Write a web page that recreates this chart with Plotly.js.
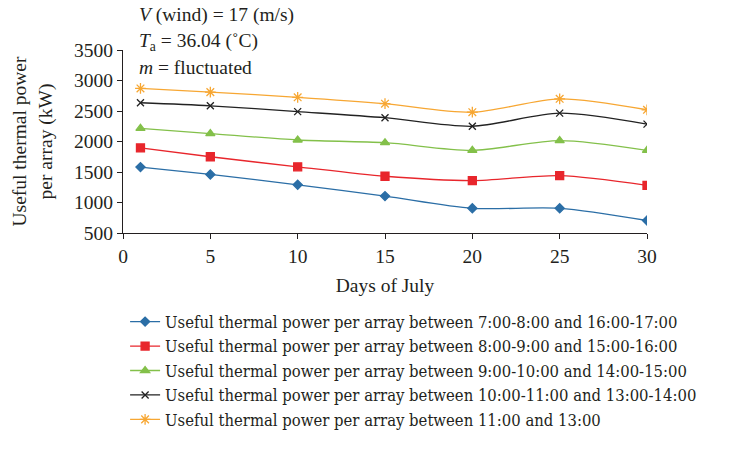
<!DOCTYPE html>
<html><head><meta charset="utf-8">
<script src="https://cdn.plot.ly/plotly-3.0.1.min.js"></script>
<style>html,body{margin:0;padding:0;background:#fff}#chart{width:753px;height:449px}</style>
</head><body><div id="chart"></div>
<script>
const days = [1, 5, 10, 15, 20, 25, 30];
const names = [
  "Useful thermal power per array between 7:00-8:00 and 16:00-17:00",
  "Useful thermal power per array between 8:00-9:00 and 15:00-16:00",
  "Useful thermal power per array between 9:00-10:00 and 14:00-15:00",
  "Useful thermal power per array between 10:00-11:00 and 13:00-14:00",
  "Useful thermal power per array between 11:00 and 13:00"
];
const p7_8 = [1580, 1460, 1290, 1105, 905, 905, 705];
const p8_9 = [1895, 1750, 1585, 1430, 1360, 1440, 1280];
const p9_10 = [2215, 2130, 2025, 1980, 1855, 2015, 1855];
const p10_11 = [2635, 2585, 2490, 2390, 2250, 2465, 2285];
const p11_13 = [2870, 2810, 2725, 2620, 2480, 2700, 2520];
const series = [p7_8, p8_9, p9_10, p10_11, p11_13];
const colors = ["#2b6ea6", "#e8262c", "#83c04a", "#222222", "#f7a733"];
const symbols = ["diamond", "square", "triangle-up", "x-thin-open", "asterisk-open"];
const sizes = [7, 8, 8, 7, 9];
const FONT = "Liberation Serif, DejaVu Serif, serif";
const LFONT = "DejaVu Serif Condensed, DejaVu Serif, Liberation Serif, serif";
const FS = 19.5;

const traces = series.map((s, i) => ({
  x: days, y: s, name: names[i], type: "scatter", mode: "lines+markers",
  line: {color: colors[i], width: 1.3, shape: "spline", smoothing: 0.8},
  marker: {symbol: symbols[i], size: sizes[i], color: colors[i], line: {color: colors[i], width: 1.3}}
}));

const layout = {
  width: 753, height: 449,
  margin: {l: 123, r: 106, t: 50, b: 213},
  paper_bgcolor: "#fff", plot_bgcolor: "#fff",
  font: {family: FONT, size: FS, color: "#231f20"},
  showlegend: true,
  legend: {x: 0.004, y: -0.39, xanchor: "left", yanchor: "top",
           font: {family: LFONT, size: 16.5, color: "#231f20"}, tracegroupgap: 0, itemwidth: 30},
  xaxis: {
    range: [0, 30], tickvals: [0, 5, 10, 15, 20, 25, 30], showgrid: false, zeroline: false, automargin: false,
    showline: true, linecolor: "#231f20", linewidth: 1.2, ticks: "outside", ticklen: 5, tickcolor: "#231f20",
    tickfont: {family: FONT, size: FS}, title: {text: "Days of July", font: {family: FONT, size: FS}, standoff: 12}
  },
  yaxis: {
    range: [500, 3500], tickvals: [500, 1000, 1500, 2000, 2500, 3000, 3500], showgrid: false, zeroline: false, automargin: false,
    showline: true, linecolor: "#231f20", linewidth: 1.2, ticks: "outside", ticklen: 5, tickcolor: "#231f20",
    tickfont: {family: FONT, size: FS}, title: {text: "Useful thermal power<br>per array (kW)", font: {family: FONT, size: FS}, standoff: 16}
  },
  annotations: [
    {xref: "paper", yref: "paper", x: 0.027, y: 1.19, xanchor: "left", yanchor: "middle", showarrow: false,
     text: "<i>V</i> (wind) = 17 (m/s)", font: {family: FONT, size: FS}},
    {xref: "paper", yref: "paper", x: 0.027, y: 1.045, xanchor: "left", yanchor: "middle", showarrow: false,
     text: "<i>T</i><sub>a</sub> = 36.04 (˚C)", font: {family: FONT, size: FS}},
    {xref: "paper", yref: "paper", x: 0.027, y: 0.905, xanchor: "left", yanchor: "middle", showarrow: false,
     text: "<i>m</i> = fluctuated", font: {family: FONT, size: FS}}
  ]
};
Plotly.newPlot("chart", traces, layout, {displayModeBar: false, responsive: false});
</script></body></html>
